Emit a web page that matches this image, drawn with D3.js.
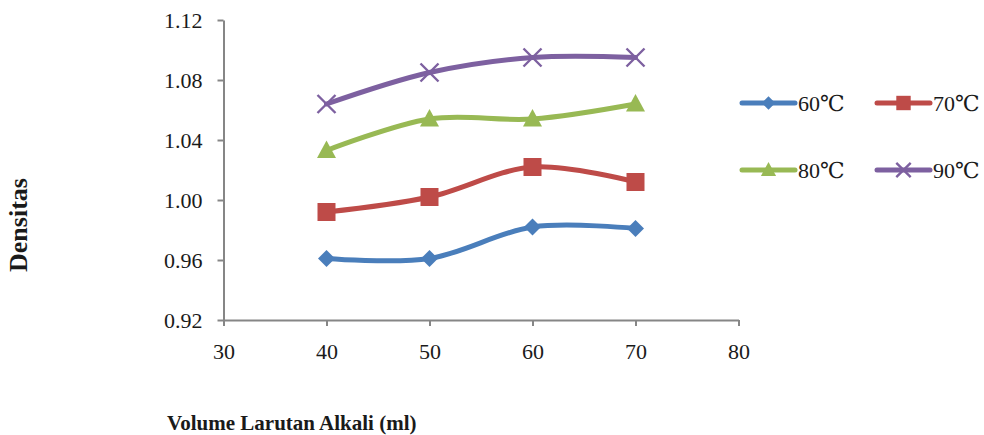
<!DOCTYPE html>
<html>
<head>
<meta charset="utf-8">
<script src="https://cdn.jsdelivr.net/npm/d3@7/dist/d3.min.js"></script>
<style>
  html, body { margin: 0; padding: 0; background: #fff; }
  svg { display: block; }
</style>
</head>
<body>
<svg id="chart" width="984" height="435"></svg>
<script>
// Volume of alkali solution (ml)
const volumes = [40, 50, 60, 70];
// Density per temperature series
const series60 = [0.961, 0.961, 0.982, 0.981];
const series70 = [0.992, 1.002, 1.022, 1.012];
const series80 = [1.033, 1.054, 1.054, 1.064];
const series90 = [1.064, 1.085, 1.095, 1.095];
const seriesNames = ["60\u2103", "70\u2103", "80\u2103", "90\u2103"];
const xTicks = [30, 40, 50, 60, 70, 80];
const yTicks = [0.92, 0.96, 1.00, 1.04, 1.08, 1.12];

const series = [
  { name: seriesNames[0], values: series60, color: "#4a7ebb", marker: "diamond" },
  { name: seriesNames[1], values: series70, color: "#be4b48", marker: "square" },
  { name: seriesNames[2], values: series80, color: "#98b954", marker: "triangle" },
  { name: seriesNames[3], values: series90, color: "#7d60a0", marker: "cross" }
];

const FONT = "'Liberation Serif', 'Times New Roman', 'DejaVu Serif', serif";
const svg = d3.select("#chart");
const x = d3.scaleLinear().domain([30, 80]).range([223.5, 738.5]);
const y = d3.scaleLinear().domain([0.92, 1.12]).range([320, 20]);
const axisColor = "#868686";

function styleText(sel, size, weight) {
  return sel.style("font-family", FONT)
    .style("font-size", size + "px")
    .style("font-weight", weight || "normal")
    .style("fill", "#1a1a1a");
}

// Y axis
const yAxis = svg.append("g").attr("transform", `translate(${x(30)},0)`)
  .call(d3.axisLeft(y).tickValues(yTicks).tickFormat(d3.format(".2f")).tickSize(6).tickSizeOuter(0).tickPadding(15));
// X axis
const xAxis = svg.append("g").attr("transform", `translate(0,${y(0.92)})`)
  .call(d3.axisBottom(x).tickValues(xTicks).tickFormat(d3.format("d")).tickSize(6).tickSizeOuter(0).tickPadding(17));

[yAxis, xAxis].forEach(g => {
  g.select(".domain").attr("stroke", axisColor).attr("stroke-width", 2);
  g.selectAll(".tick line").attr("stroke", axisColor).attr("stroke-width", 2);
  styleText(g.selectAll(".tick text"), 22);
});

// Axis titles
styleText(svg.append("text")
  .attr("x", 167).attr("y", 430)
  .attr("text-anchor", "start")
  .text("Volume Larutan Alkali (ml)"), 21, "bold");
styleText(svg.append("text")
  .attr("transform", "translate(27,225) rotate(-90)")
  .attr("text-anchor", "middle")
  .text("Densitas"), 26, "bold");

const line = d3.line()
  .x((d, i) => x(volumes[i]))
  .y(d => y(d))
  .curve(d3.curveCardinal.tension(0));

// Marker shapes; k scales the size (legend uses smaller markers)
function drawMarker(g, type, cx, cy, color, k) {
  if (type === "diamond") {
    const r = 8.5 * k;
    g.append("path").attr("d", `M${cx},${cy - r}L${cx + r},${cy}L${cx},${cy + r}L${cx - r},${cy}Z`).attr("fill", color);
  } else if (type === "square") {
    const h = 9 * k;
    g.append("rect").attr("x", cx - h).attr("y", cy - h).attr("width", 2 * h).attr("height", 2 * h).attr("fill", color);
  } else if (type === "triangle") {
    const w = 9.5 * k, t = 10 * k, b = 7.5 * k;
    g.append("path").attr("d", `M${cx},${cy - t}L${cx + w},${cy + b}L${cx - w},${cy + b}Z`).attr("fill", color);
  } else if (type === "cross") {
    const h = 9 * k;
    g.append("path").attr("d", `M${cx - h},${cy - h}L${cx + h},${cy + h}M${cx - h},${cy + h}L${cx + h},${cy - h}`)
      .attr("stroke", color).attr("stroke-width", 2.4).attr("fill", "none");
  }
}

const plot = svg.append("g");
series.forEach(s => {
  plot.append("path")
    .datum(s.values)
    .attr("d", line)
    .attr("fill", "none")
    .attr("stroke", s.color)
    .attr("stroke-width", 5)
    .attr("stroke-linecap", "round");
  const mg = plot.append("g");
  s.values.forEach((v, i) => drawMarker(mg, s.marker, x(volumes[i]), y(v), s.color, 1));
});

// Legend, two columns by two rows
const legend = svg.append("g");
series.forEach((s, i) => {
  const col = i % 2, row = Math.floor(i / 2);
  const lx = 742 + col * 135, ly = 103 + row * 67;
  const g = legend.append("g");
  g.append("line").attr("x1", lx).attr("x2", lx + 53).attr("y1", ly).attr("y2", ly)
    .attr("stroke", s.color).attr("stroke-width", 5).attr("stroke-linecap", "round");
  drawMarker(g, s.marker, lx + 26.5, ly, s.color, 0.8);
  styleText(g.append("text").attr("x", lx + 56).attr("y", ly + 8).text(s.name), 22);
});
</script>
</body>
</html>
